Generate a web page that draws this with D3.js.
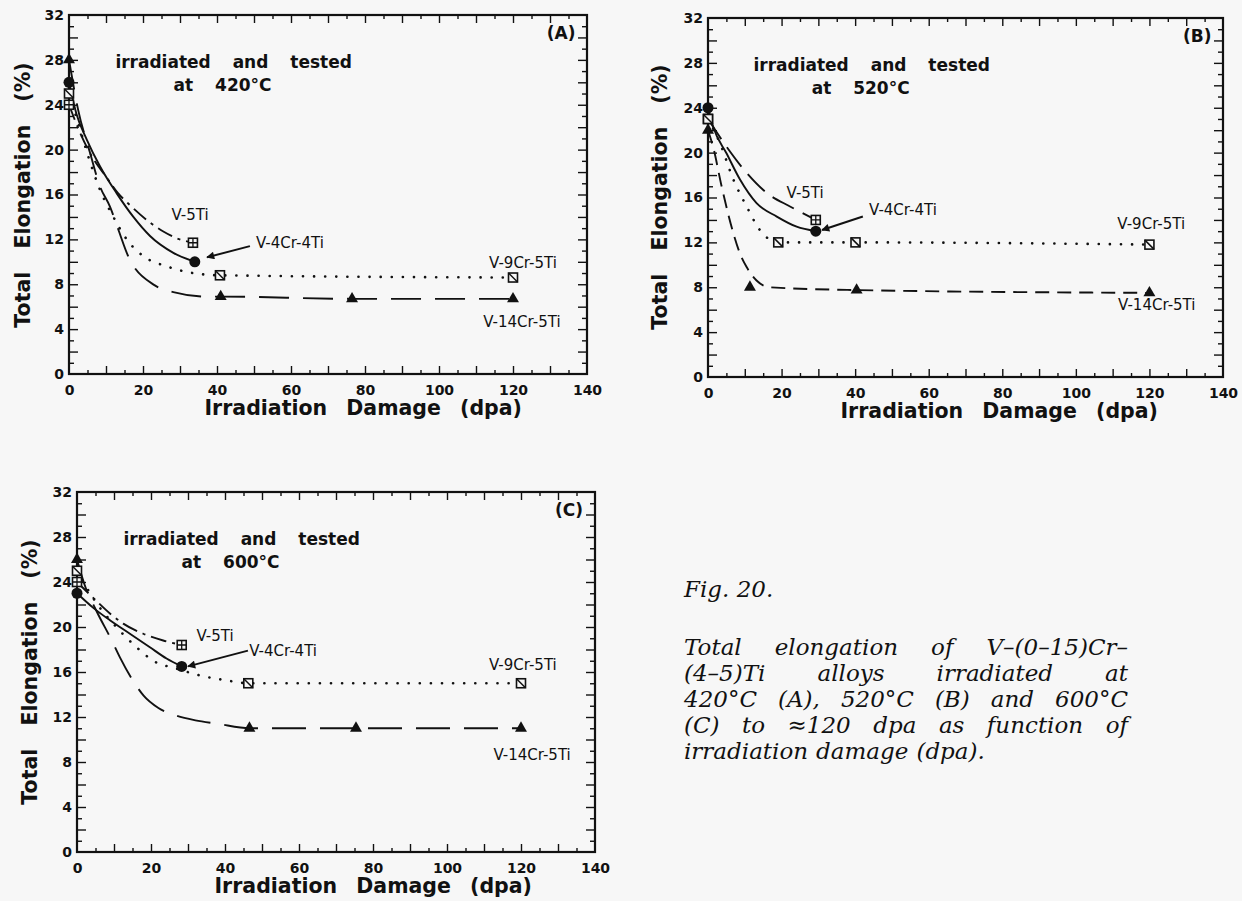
<!DOCTYPE html>
<html>
<head>
<meta charset="utf-8">
<script src="https://cdn.jsdelivr.net/npm/d3@7"></script>
<style>
  body { margin: 0; background: #f7f7f7; }
  svg text { font-family: 'DejaVu Sans', sans-serif; fill: #111; }
</style>
</head>
<body>
<svg id="fig" width="1242" height="901"></svg>
<script>
// ---- data ----

const xTicks = [0, 20, 40, 60, 80, 100, 120, 140];
const yTicks = [0, 4, 8, 12, 16, 20, 24, 28, 32];
const alloys = ['V-5Ti', 'V-4Cr-4Ti', 'V-9Cr-5Ti', 'V-14Cr-5Ti'];

// measured points [dpa, total elongation %]
const a420_V5Ti = [[0, 24], [33.5, 11.7]];
const a420_V4Cr4Ti = [[0, 26], [34, 10]];
const a420_V9Cr5Ti = [[0, 25], [40.8, 8.8], [120, 8.6]];
const a420_V14Cr5Ti = [[0, 28], [41, 6.9], [76.5, 6.7], [120, 6.7]];

const b520_V5Ti = [[0, 23], [29.3, 14]];
const b520_V4Cr4Ti = [[0, 24], [29.3, 13]];
const b520_V9Cr5Ti = [[0, 23], [19.1, 12], [40.1, 12], [120, 11.8]];
const b520_V14Cr5Ti = [[0, 22], [11.4, 8], [40.4, 7.75], [120, 7.5]];

const c600_V5Ti = [[0, 24], [28.3, 18.4]];
const c600_V4Cr4Ti = [[0, 23], [28.3, 16.5]];
const c600_V9Cr5Ti = [[0, 25], [46.3, 15], [120, 15]];
const c600_V14Cr5Ti = [[0, 26], [46.6, 11], [75.4, 11], [120, 11]];

// hand drawn trend curves
const a420_V5Ti_fit = [[0, 24], [3, 21.5], [6, 19.5], [10.2, 17.5], [13.3, 16.1], [16, 15.2], [21.9, 13.5], [25.5, 12.7], [29.1, 12.1], [33.5, 11.7]];
const a420_V4Cr4Ti_fit = [[0, 26], [2, 23.2], [4.8, 20.9], [8.4, 18.5], [12.9, 16.1], [17.4, 14], [21.9, 12.3], [28.2, 10.8], [34, 10]];
const a420_V9Cr5Ti_fit = [[0, 25], [3, 21.8], [5.2, 19.4], [8.4, 16.4], [12, 14], [15.6, 12], [20.1, 10.5], [26.4, 9.6], [31.8, 9.1], [40.8, 8.8], [120, 8.6]];
const a420_V14Cr5Ti_fit = [[0, 28], [2.5, 23.5], [5.7, 19.7], [8.4, 16.7], [11.1, 14.9], [13.3, 12.9], [16, 10.5], [23.2, 7.9], [28.2, 7.3], [37.2, 6.9], [41, 6.9], [76.5, 6.7], [120, 6.7]];

const b520_V5Ti_fit = [[0, 23], [5.1, 20.5], [10.5, 18.2], [16, 16.4], [22.3, 15.2], [29.3, 14]];
const b520_V4Cr4Ti_fit = [[0, 24], [1.4, 22.3], [5.1, 19.9], [8.7, 17.6], [13.2, 15.5], [18.7, 14.3], [24.1, 13.4], [29.3, 13]];
const b520_V9Cr5Ti_fit = [[0, 23], [3.3, 20.8], [6.9, 17.6], [10.5, 15.2], [14.1, 13.1], [19.1, 12], [40.1, 12], [120, 11.8]];
const b520_V14Cr5Ti_fit = [[0, 22], [1.4, 20.5], [3.7, 17], [6.9, 12.8], [8.7, 11], [10.5, 9.8], [13.2, 8.6], [16.8, 8], [40.4, 7.75], [120, 7.5]];

const c600_V5Ti_fit = [[0, 24], [5.3, 22.3], [8.9, 21.2], [12.5, 20.3], [17.9, 19.4], [23.3, 18.8], [28.3, 18.4]];
const c600_V4Cr4Ti_fit = [[0, 23], [4.4, 21.7], [8.9, 20.6], [14.3, 19.4], [19.7, 18.2], [24.2, 17.2], [28.3, 16.5]];
const c600_V9Cr5Ti_fit = [[0, 25], [2.6, 23.5], [6.2, 21.7], [9.8, 20.3], [16.1, 18.2], [20.6, 17], [26.9, 16.3], [33.2, 15.7], [40.5, 15.25], [46.3, 15], [120, 15]];
const c600_V14Cr5Ti_fit = [[0, 26], [2, 23.8], [5.3, 21.4], [9.4, 18.8], [11.6, 17.3], [15, 15.3], [18, 13.9], [22, 12.8], [27, 12.1], [32, 11.7], [38, 11.4], [46.6, 11], [75.4, 11], [120, 11]];

const captionHead = 'Fig. 20.';
const captionLines = [
  'Total elongation of V–(0–15)Cr–',
  '(4–5)Ti alloys irradiated at',
  '420°C (A), 520°C (B) and 600°C',
  '(C) to ≈120 dpa as function of',
  'irradiation damage (dpa).'
];

// ---- layout ----

const svg = d3.select('#fig');
const ink = '#111';
const paper = '#f7f7f7';

const panels = [
  {
    key: 'A', temp: '420°C', left: 69, top: 15, width: 518, height: 359,
    points: [a420_V5Ti, a420_V4Cr4Ti, a420_V9Cr5Ti, a420_V14Cr5Ti],
    fits: [a420_V5Ti_fit, a420_V4Cr4Ti_fit, a420_V9Cr5Ti_fit, a420_V14Cr5Ti_fit],
    dashes: ['16,6,3,6', null, '0.1,11', '30,14'],
    labels: [[32.7, 14.2], [59.7, 11.7], [122.7, 9.9], [122.4, 4.6]],
    arrow: [[48.9, 11.4], [37.3, 10.4]],
    yTitle: [23, 195], xTitleEnd: 522
  },
  {
    key: 'B', temp: '520°C', left: 708, top: 18, width: 515, height: 359,
    points: [b520_V5Ti, b520_V4Cr4Ti, b520_V9Cr5Ti, b520_V14Cr5Ti],
    fits: [b520_V5Ti_fit, b520_V4Cr4Ti_fit, b520_V9Cr5Ti_fit, b520_V14Cr5Ti_fit],
    dashes: ['24,10', null, '0.1,11', '14,8'],
    labels: [[26.4, 16.4], [53, 14.9], [120.5, 13.6], [122, 6.4]],
    arrow: [[42.1, 14.3], [31, 13.1]],
    yTitle: [660, 197], xTitleEnd: 1158
  },
  {
    key: 'C', temp: '600°C', left: 77, top: 492, width: 518, height: 360,
    points: [c600_V5Ti, c600_V4Cr4Ti, c600_V9Cr5Ti, c600_V14Cr5Ti],
    fits: [c600_V5Ti_fit, c600_V4Cr4Ti_fit, c600_V9Cr5Ti_fit, c600_V14Cr5Ti_fit],
    dashes: ['16,6,3,6', null, '0.1,11', '34,14'],
    labels: [[37.3, 19.2], [55.7, 17.9], [120.5, 16.6], [123, 8.6]],
    arrow: [[46.2, 17.9], [30, 16.5]],
    yTitle: [30, 672], xTitleEnd: 532
  }
];

svg.append('defs').append('marker')
    .attr('id', 'arrowhead')
    .attr('viewBox', '0 0 10 10')
    .attr('refX', 9)
    .attr('refY', 5)
    .attr('markerWidth', 11)
    .attr('markerHeight', 8)
    .attr('markerUnits', 'userSpaceOnUse')
    .attr('orient', 'auto')
  .append('path')
    .attr('d', 'M0,0 L10,5 L0,10 z')
    .attr('fill', ink);

function drawMarker(sel, kind) {
  if (kind === 0 || kind === 2) {
    sel.append('rect')
        .attr('x', -4.5).attr('y', -4.5)
        .attr('width', 9).attr('height', 9)
        .attr('fill', paper)
        .attr('stroke', ink)
        .attr('stroke-width', 1.6);
    if (kind === 0) {
      sel.append('path')
          .attr('d', 'M0,-4.5V4.5M-4.5,0H4.5')
          .attr('stroke', ink)
          .attr('stroke-width', 1.3);
    } else {
      sel.append('path')
          .attr('d', 'M-4.5,-4.5L4.5,4.5')
          .attr('stroke', ink)
          .attr('stroke-width', 1.5);
    }
  } else if (kind === 1) {
    sel.append('circle').attr('r', 5.5).attr('fill', ink);
  } else {
    sel.append('path')
        .attr('d', d3.symbol(d3.symbolTriangle).size(62)())
        .attr('fill', ink);
  }
}

panels.forEach(p => {
  const g = svg.append('g')
      .attr('transform', `translate(${p.left},${p.top})`);

  const x = d3.scaleLinear().domain([0, 140]).range([0, p.width]);
  const y = d3.scaleLinear().domain([0, 32]).range([p.height, 0]);

  // inward ticks on all four sides
  const addTicks = (axis, transform) => g.append('g')
      .attr('transform', transform)
      .call(axis)
      .call(a => a.select('.domain').remove())
      .call(a => a.selectAll('line').attr('stroke', ink).attr('stroke-width', 1.4));

  const xMajor = d3.range(10, 140, 10);
  const xMinor = d3.range(5, 140, 10);
  const yMajor = d3.range(2, 32, 2);
  const yMinor = d3.range(1, 32, 2);

  addTicks(d3.axisBottom(x).tickValues(xMajor).tickSize(-8).tickFormat(''), `translate(0,${p.height})`);
  addTicks(d3.axisBottom(x).tickValues(xMinor).tickSize(-4).tickFormat(''), `translate(0,${p.height})`);
  addTicks(d3.axisTop(x).tickValues(xMajor).tickSize(-8).tickFormat(''), 'translate(0,0)');
  addTicks(d3.axisTop(x).tickValues(xMinor).tickSize(-4).tickFormat(''), 'translate(0,0)');
  addTicks(d3.axisLeft(y).tickValues(yMajor).tickSize(-9).tickFormat(''), 'translate(0,0)');
  addTicks(d3.axisLeft(y).tickValues(yMinor).tickSize(-5).tickFormat(''), 'translate(0,0)');
  addTicks(d3.axisRight(y).tickValues(yMajor).tickSize(-9).tickFormat(''), `translate(${p.width},0)`);
  addTicks(d3.axisRight(y).tickValues(yMinor).tickSize(-5).tickFormat(''), `translate(${p.width},0)`);

  // tick labels
  g.append('g')
      .attr('transform', `translate(0,${p.height})`)
      .call(d3.axisBottom(x).tickValues(xTicks).tickSize(0).tickPadding(11))
      .call(a => a.select('.domain').remove())
      .call(a => a.selectAll('text')
          .attr('fill', ink)
          .attr('font-family', 'DejaVu Sans')
          .attr('font-weight', 'bold')
          .attr('font-size', 14));

  g.append('g')
      .call(d3.axisLeft(y).tickValues(yTicks).tickSize(0).tickPadding(5))
      .call(a => a.select('.domain').remove())
      .call(a => a.selectAll('text')
          .attr('fill', ink)
          .attr('font-family', 'DejaVu Sans')
          .attr('font-weight', 'bold')
          .attr('font-size', 14));

  // frame
  g.append('rect')
      .attr('width', p.width)
      .attr('height', p.height)
      .attr('fill', 'none')
      .attr('stroke', ink)
      .attr('stroke-width', 2.2);

  // trend curves
  const line = d3.line()
      .x(d => x(d[0]))
      .y(d => y(d[1]))
      .curve(d3.curveMonotoneX);

  g.selectAll('.fit')
    .data(p.fits)
    .join('path')
      .attr('class', 'fit')
      .attr('d', line)
      .attr('fill', 'none')
      .attr('stroke', ink)
      .attr('stroke-width', (d, i) => i === 2 ? 2.6 : 1.9)
      .attr('stroke-linecap', (d, i) => i === 2 ? 'round' : 'butt')
      .attr('stroke-dasharray', (d, i) => p.dashes[i]);

  // markers
  p.points.forEach((pts, i) => {
    g.append('g')
      .selectAll('g')
      .data(pts)
      .join('g')
        .attr('transform', d => `translate(${x(d[0])},${y(d[1])})`)
        .each(function() { drawMarker(d3.select(this), i); });
  });

  // alloy labels
  g.selectAll('.alloy')
    .data(alloys)
    .join('text')
      .attr('class', 'alloy')
      .attr('x', (d, i) => x(p.labels[i][0]))
      .attr('y', (d, i) => y(p.labels[i][1]))
      .attr('text-anchor', 'middle')
      .attr('dominant-baseline', 'central')
      .attr('font-family', 'Liberation Sans')
      .attr('font-size', 15)
      .text(d => d);

  g.append('line')
      .attr('x1', x(p.arrow[0][0]))
      .attr('y1', y(p.arrow[0][1]))
      .attr('x2', x(p.arrow[1][0]))
      .attr('y2', y(p.arrow[1][1]))
      .attr('stroke', ink)
      .attr('stroke-width', 2)
      .attr('marker-end', 'url(#arrowhead)');

  // in-plot title and panel letter
  const title = g.append('text')
      .attr('font-weight', 'bold')
      .attr('font-size', 17)
      .attr('text-anchor', 'middle')
      .style('word-spacing', '16px');
  title.append('tspan')
      .attr('x', x(44.5))
      .attr('y', y(27.8) + 6)
      .text('irradiated and tested');
  title.append('tspan')
      .attr('x', x(41.5))
      .attr('y', y(25.8) + 6)
      .text('at ' + p.temp);

  g.append('text')
      .attr('x', x(133))
      .attr('y', y(30.4) + 6)
      .attr('text-anchor', 'middle')
      .attr('font-weight', 'bold')
      .attr('font-size', 17)
      .text(`(${p.key})`);

  // axis titles
  svg.append('text')
      .attr('transform', `translate(${p.yTitle[0]},${p.yTitle[1]}) rotate(-90)`)
      .attr('text-anchor', 'middle')
      .attr('dominant-baseline', 'central')
      .attr('font-weight', 'bold')
      .attr('font-size', 20.5)
      .style('word-spacing', '16px')
      .text('Total Elongation (%)');

  svg.append('text')
      .attr('x', p.xTitleEnd)
      .attr('y', p.top + p.height + 41)
      .attr('text-anchor', 'end')
      .attr('font-weight', 'bold')
      .attr('font-size', 20.5)
      .style('word-spacing', '12px')
      .text('Irradiation Damage (dpa)');
});

// caption, justified like the printed block
const capLeft = 684;
const capRight = 1128;
const cap = svg.append('g')
    .attr('font-style', 'italic')
    .attr('font-size', 23);

cap.append('text')
    .attr('x', capLeft)
    .attr('y', 597)
    .style('font-family', 'DejaVu Serif')
    .text(captionHead);

captionLines.forEach((txt, li) => {
  const yy = 655 + li * 26;
  const words = txt.split(' ');
  const row = cap.append('g');
  const nodes = words.map(w => row.append('text')
      .attr('y', yy)
      .style('font-family', 'DejaVu Serif')
      .text(w));
  const widths = nodes.map(n => n.node().getComputedTextLength());
  const total = d3.sum(widths);
  const last = li === captionLines.length - 1;
  const gap = last ? 8 : (capRight - capLeft - total) / (words.length - 1);
  let cx = capLeft;
  nodes.forEach((n, i) => {
    n.attr('x', cx);
    cx += widths[i] + gap;
  });
});
</script>
</body>
</html>
